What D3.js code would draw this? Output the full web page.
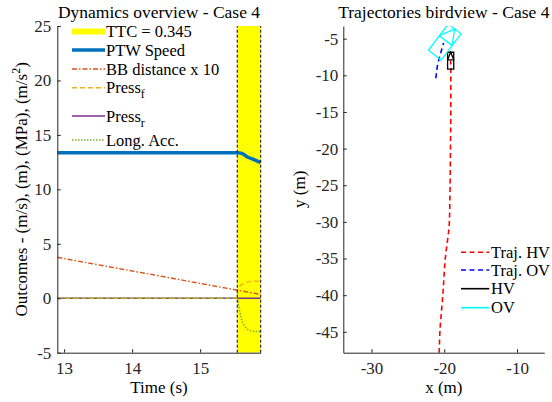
<!DOCTYPE html>
<html><head><meta charset="utf-8">
<script src="https://cdn.jsdelivr.net/npm/d3@7"></script>
<style>
html,body{margin:0;padding:0;background:#fff;}
svg text{font-family:"Liberation Serif","Times New Roman",serif;}
</style></head>
<body>
<svg id="c" width="552" height="402"></svg>
<script>
// ---- Left panel data ----
const ttcRange = [15.545, 15.89];
const ttcValue = 0.345;
const speedT = [12.9, 15.55, 15.613, 15.686, 15.783, 15.89];
const speedV = [13.35, 13.35, 13.3, 13.0, 12.76, 12.45];
const bbT = [12.9, 15.89];
const bbV = [3.76, 0.35];
const pressFT = [12.9, 15.545, 15.55, 15.56, 15.59, 15.63, 15.68, 15.73, 15.8, 15.85, 15.89];
const pressFV = [0, 0, 0.6, 0.9, 1.15, 1.32, 1.45, 1.53, 1.57, 1.56, 1.52];
const pressRT = [12.9, 15.89];
const pressRV = [0, 0];
const accT = [12.9, 15.55, 15.565, 15.58, 15.6, 15.613, 15.65, 15.686, 15.73, 15.783, 15.84, 15.89];
const accV = [0, 0, -0.6, -1.13, -1.7, -2.05, -2.5, -2.8, -2.97, -3.05, -3.06, -3.05];
const leftXTicks = [13, 14, 15];
const leftYTicks = [-5, 0, 5, 10, 15, 20, 25];
const leftXDomain = [12.9, 15.89];
const leftYDomain = [-5, 25];

// ---- Right panel data ----
const hvTrajX = [-20.7, -20.6, -20.2, -19.86, -19.3, -19.2, -19.15, -19.1, -19.1, -19.12];
const hvTrajY = [-47.9, -45, -40, -35, -30, -25, -20, -15, -10, -8.0];
const ovTrajX = [-21.15, -20.9, -20.5, -20.1];
const ovTrajY = [-10.4, -8.5, -7.0, -5.6];
const hvPose = [-19.12, -8.0, 90];   // centre x, centre y, heading (deg)
const hvSize = [2.3, 0.85];          // length, width
const ovPose = [-19.94, -5.46, 52.6];
const ovSize = [4.5, 2.2];
const rightXTicks = [-30, -20, -10];
const rightYTicks = [-45, -40, -35, -30, -25, -20, -15, -10, -5];
const rightXDomain = [-33.87, -6.26];
const rightYDomain = [-47.85, -3.27];

const C = {blue:"#0072BD", red:"#D95319", orange:"#EDB120", purple:"#7E2F8E", green:"#77AC30", axis:"#262626"};
const FS = 16, TFS = 17, TITLE = 17.5;

const svg = d3.select("#c");
const L = {x0:57.3, x1:260.7, y0:26, y1:352.7};
const R = {x0:343.3, x1:544.3, y0:26, y1:352.7};

const xL = d3.scaleLinear(leftXDomain, [L.x0, L.x1]);
const yL = d3.scaleLinear(leftYDomain, [L.y1, L.y0]);
const xR = d3.scaleLinear(rightXDomain, [R.x0, R.x1]);
const yR = d3.scaleLinear(rightYDomain, [R.y1, R.y0]);

const defs = svg.append("defs");
defs.append("clipPath").attr("id","clipL").append("rect")
  .attr("x",L.x0).attr("y",L.y0).attr("width",L.x1-L.x0).attr("height",L.y1-L.y0);
defs.append("clipPath").attr("id","clipR").append("rect")
  .attr("x",R.x0).attr("y",R.y0).attr("width",R.x1-R.x0).attr("height",R.y1-R.y0);

// ===== LEFT PANEL =====
const gL = svg.append("g").attr("clip-path","url(#clipL)");
gL.append("rect")
  .attr("x", xL(ttcRange[0])).attr("y", yL(leftYDomain[1]))
  .attr("width", xL(ttcRange[1]) - xL(ttcRange[0]))
  .attr("height", yL(leftYDomain[0]) - yL(leftYDomain[1]))
  .attr("fill", "#FFFF00");

function series(T, V) { return T.map((t,i)=>[t, V[i]]); }
const lineL = d3.line().x(d=>xL(d[0])).y(d=>yL(d[1])).curve(d3.curveMonotoneX);

gL.append("path").attr("d", lineL(series(speedT, speedV)))
  .attr("fill","none").attr("stroke",C.blue).attr("stroke-width",3.5);
gL.append("path").attr("d", lineL(series(bbT, bbV)))
  .attr("fill","none").attr("stroke",C.red).attr("stroke-width",1.4)
  .attr("stroke-dasharray","5,2,1.5,2");
gL.append("path").attr("d", lineL(series(pressRT, pressRV)))
  .attr("fill","none").attr("stroke",C.purple).attr("stroke-width",1.4);
gL.append("path").attr("d", lineL(series(pressFT, pressFV)))
  .attr("fill","none").attr("stroke",C.orange).attr("stroke-width",1.4)
  .attr("stroke-dasharray","5,3");
gL.append("path").attr("d", lineL(series(accT, accV)))
  .attr("fill","none").attr("stroke",C.green).attr("stroke-width",1.4)
  .attr("stroke-dasharray","1.5,1.5");

// TTC boundary dashed lines
ttcRange.forEach(t=>{
  svg.append("line").attr("x1",xL(t)).attr("x2",xL(t))
    .attr("y1",yL(leftYDomain[0])).attr("y2",yL(leftYDomain[1]))
    .attr("stroke","#000").attr("stroke-width",1).attr("stroke-dasharray","3,2");
});

function styleAxis(g){
  g.selectAll(".domain").attr("stroke",C.axis).attr("stroke-width",1);
  g.selectAll(".tick line").attr("stroke",C.axis);
  g.selectAll("text").attr("font-family","Liberation Serif").attr("font-size",TFS).attr("fill",C.axis);
}
const fmt = d => String(d);
svg.append("g").attr("transform",`translate(0,${L.y1})`)
  .call(d3.axisBottom(xL).tickValues(leftXTicks).tickFormat(fmt).tickSizeInner(-3.5).tickSizeOuter(0).tickPadding(9))
  .call(styleAxis);
svg.append("g").attr("transform",`translate(${L.x0},0)`)
  .call(d3.axisLeft(yL).tickValues(leftYTicks).tickFormat(fmt).tickSizeInner(-3.5).tickSizeOuter(0).tickPadding(6))
  .call(styleAxis);

svg.append("text").attr("x",(L.x0+L.x1)/2).attr("y",17.5).attr("text-anchor","middle")
  .attr("font-size",TITLE).text("Dynamics overview - Case 4");
svg.append("text").attr("x",(L.x0+L.x1)/2).attr("y",393).attr("text-anchor","middle")
  .attr("font-size",TFS).text("Time (s)");
const yl = svg.append("text").attr("transform",`translate(27,${(L.y0+L.y1)/2}) rotate(-90)`)
  .attr("text-anchor","middle").attr("font-size",TFS);
yl.append("tspan").text("Outcomes - (m/s), (m), (MPa), (m/s");
yl.append("tspan").attr("baseline-shift","super").attr("font-size",12).text("2");
yl.append("tspan").text(")");

// Left legend
const legL = [
  {label:"TTC = "+ttcValue, color:"#FFFF00", w:6, dash:null, y:31.5},
  {label:"PTW Speed", color:C.blue, w:3.5, dash:null, y:50},
  {label:"BB distance x 10", color:C.red, w:1.4, dash:"5,2,1.5,2", y:69},
  {label:"Press", sub:"f", color:C.orange, w:1.4, dash:"5,3", y:87.7},
  {label:"Press", sub:"r", color:C.purple, w:1.4, dash:null, y:116},
  {label:"Long. Acc.", color:C.green, w:1.4, dash:"1.5,1.5", y:140}
];
legL.forEach(e=>{
  svg.append("line").attr("x1",72).attr("x2",105).attr("y1",e.y).attr("y2",e.y)
    .attr("stroke",e.color).attr("stroke-width",e.w).attr("stroke-dasharray",e.dash);
  const t = svg.append("text").attr("x",106).attr("y",e.y+5.5).attr("font-size",FS+0.5);
  t.append("tspan").text(e.label);
  if (e.sub) t.append("tspan").attr("baseline-shift","-40%").attr("font-size",12).text(e.sub);
});

// ===== RIGHT PANEL =====
const gR = svg.append("g").attr("clip-path","url(#clipR)");
const lineR = d3.line().x(d=>xR(d[0])).y(d=>yR(d[1])).curve(d3.curveMonotoneY);
gR.append("path").attr("d", lineR(series(hvTrajX, hvTrajY)))
  .attr("fill","none").attr("stroke","#FF0000").attr("stroke-width",1.6).attr("stroke-dasharray","5,3.5");
gR.append("path").attr("d", lineR(series(ovTrajX, ovTrajY)))
  .attr("fill","none").attr("stroke","#0000FF").attr("stroke-width",1.6).attr("stroke-dasharray","5,3.5");

function vehicle(pose, size, color){
  const [cx, cy, hd] = pose, [len, wid] = size;
  const a = hd*Math.PI/180;
  const f = [Math.cos(a), Math.sin(a)], s = [-Math.sin(a), Math.cos(a)];
  const P = (u, v) => [xR(cx + f[0]*u + s[0]*v), yR(cy + f[1]*u + s[1]*v)];
  const hl = len/2, hw = wid/2;
  const rect = [P(hl,hw), P(hl,-hw), P(-hl,-hw), P(-hl,hw)];
  gR.append("polygon").attr("points", rect.map(p=>p.join(",")).join(" "))
    .attr("fill","none").attr("stroke",color).attr("stroke-width",1.3);
  const cross = [P(hl - 0.45*len, hw), P(hl - 0.45*len, -hw)];
  gR.append("line").attr("x1",cross[0][0]).attr("y1",cross[0][1]).attr("x2",cross[1][0]).attr("y2",cross[1][1])
    .attr("stroke",color).attr("stroke-width",1.3);
  const tri = [cross[0], P(hl,0), cross[1]];
  gR.append("polyline").attr("points", tri.map(p=>p.join(",")).join(" "))
    .attr("fill","none").attr("stroke",color).attr("stroke-width",1.3);
}
vehicle(hvPose, hvSize, "#000000");
vehicle(ovPose, ovSize, "#00FFFF");

svg.append("g").attr("transform",`translate(0,${R.y1})`)
  .call(d3.axisBottom(xR).tickValues(rightXTicks).tickFormat(fmt).tickSizeInner(-3.5).tickSizeOuter(0).tickPadding(9))
  .call(styleAxis);
svg.append("g").attr("transform",`translate(${R.x0},0)`)
  .call(d3.axisLeft(yR).tickValues(rightYTicks).tickFormat(fmt).tickSizeInner(-3.5).tickSizeOuter(0).tickPadding(5))
  .call(styleAxis);

svg.append("text").attr("x",(R.x0+R.x1)/2).attr("y",17.5).attr("text-anchor","middle")
  .attr("font-size",TITLE).text("Trajectories birdview - Case 4");
svg.append("text").attr("x",(R.x0+R.x1)/2).attr("y",393).attr("text-anchor","middle")
  .attr("font-size",TFS).text("x (m)");
svg.append("text").attr("transform",`translate(305,${(R.y0+R.y1)/2}) rotate(-90)`)
  .attr("text-anchor","middle").attr("font-size",TFS).text("y (m)");

const legR = [
  {label:"Traj. HV", color:"#FF0000", dash:"5,3.5", w:1.6, y:252.3},
  {label:"Traj. OV", color:"#0000FF", dash:"5,3.5", w:1.6, y:270},
  {label:"HV", color:"#000000", dash:null, w:1.6, y:288.7},
  {label:"OV", color:"#00FFFF", dash:null, w:1.6, y:307.7}
];
legR.forEach(e=>{
  svg.append("line").attr("x1",461).attr("x2",489.3).attr("y1",e.y).attr("y2",e.y)
    .attr("stroke",e.color).attr("stroke-width",e.w).attr("stroke-dasharray",e.dash);
  svg.append("text").attr("x",491).attr("y",e.y+5.5).attr("font-size",FS+0.5).text(e.label);
});
</script>
</body></html>
